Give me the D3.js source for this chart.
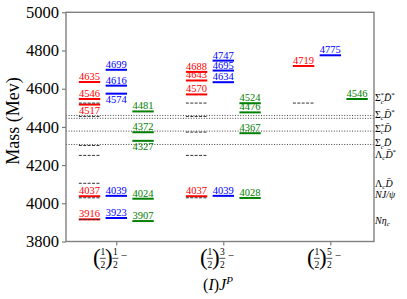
<!DOCTYPE html>
<html>
<head>
<meta charset="utf-8">
<script src="https://cdn.jsdelivr.net/npm/d3@7"></script>
<style>
  body { margin: 0; background: #fff; }
  text { font-family: "Liberation Serif", "Times New Roman", "DejaVu Serif", serif; }
</style>
</head>
<body>
<div id="chart"></div>
<script>
// (I)J^P columns
var jpNum = ["1", "3", "5"];

// masses per column, one array per series
var redMass = [[4635, 4546, 4517, 4037, 3916], [4688, 4643, 4570, 4037], [4719]];
var blueMass = [[4699, 4616, 4574, 4039, 3923], [4747, 4695, 4634, 4039], [4775]];
var greenMass = [[4481, 4372, 4327, 4024, 3907], [4524, 4476, 4367, 4028], [4546]];

// labels that sit under their line instead of over it
var labelBelow = [4517, 4574, 4327];

// thresholds drawn as short dashes in each column
var colThresholds = [
    [3920, 4034, 4110, 4256, 4308, 4460, 4530],
    [4034, 4256, 4378, 4460, 4530],
    [4530]
];
// thresholds drawn as dotted lines across the plot
var dottedThresholds = [4308, 4378, 4445, 4460];

// channel names on the right and the mass they are written at
var channelNames = ["Sc*D*", "ScD*", "Sc*D", "ScD", "LcD*", "LcD", "NJpsi", "Netac"];
var channelMass = [4552, 4466, 4393, 4316, 4256, 4106, 4048, 3912];

var yTicks = [3800, 4000, 4200, 4400, 4600, 4800, 5000];

var W = 407, H = 299;
var svg = d3.select("#chart").append("svg")
    .attr("width", W).attr("height", H);

var x = d3.scaleLinear().domain([0.53, 3.408]).range([66, 374]);
var y = d3.scaleLinear().domain([3800, 5000]).range([241.5, 12.3]);

var series = [
    { data: redMass, color: "#ff0000", off: -0.25 },
    { data: blueMass, color: "#0000ff", off: 0 },
    { data: greenMass, color: "#008000", off: 0.25 }
];
var hw = 0.1;

// dotted threshold lines
svg.selectAll(".dot-thr")
    .data(dottedThresholds)
    .enter().append("line")
    .attr("x1", x(0.53)).attr("x2", x(3.408))
    .attr("y1", function (d) { return y(d) }).attr("y2", function (d) { return y(d) })
    .attr("stroke", "#444").attr("stroke-width", 1)
    .attr("stroke-dasharray", "1,1.6");

// bars
var bars = [];
series.forEach(function (s) {
    s.data.forEach(function (col, i) {
        col.forEach(function (m) {
            bars.push({ c: i + 1, off: s.off, m: m, color: s.color });
        });
    });
});

svg.selectAll(".lvl")
    .data(bars)
    .enter().append("line")
    .attr("x1", function (d) { return x(d.c + d.off - hw) })
    .attr("x2", function (d) { return x(d.c + d.off + hw) })
    .attr("y1", function (d) { return y(d.m) })
    .attr("y2", function (d) { return y(d.m) })
    .attr("stroke", function (d) { return d.color })
    .attr("stroke-width", 2);

// short dashed thresholds at the red position
var dashes = [];
colThresholds.forEach(function (col, i) {
    col.forEach(function (m) { dashes.push({ c: i + 1, m: m }); });
});
svg.selectAll(".dash-thr")
    .data(dashes)
    .enter().append("line")
    .attr("x1", function (d) { return x(d.c - 0.25 - hw) })
    .attr("x2", function (d) { return x(d.c - 0.25 + hw) })
    .attr("y1", function (d) { return y(d.m) + 1 })
    .attr("y2", function (d) { return y(d.m) + 1 })
    .attr("stroke", "#333").attr("stroke-width", 1)
    .attr("stroke-dasharray", "3,1.4");

// value labels
svg.selectAll(".lbl")
    .data(bars)
    .enter().append("text")
    .attr("x", function (d) { return x(d.c + d.off) })
    .attr("y", function (d) {
        return labelBelow.indexOf(d.m) >= 0 ? y(d.m) + 9 : y(d.m) - 2;
    })
    .attr("text-anchor", "middle")
    .attr("font-size", "10.5px")
    .attr("fill", function (d) { return d.color })
    .text(function (d) { return d.m });

// axes
var yAxis = svg.append("g")
    .attr("transform", "translate(66,0)")
    .call(d3.axisLeft(y).tickValues(yTicks).tickFormat(d3.format("d")).tickSize(4).tickPadding(3));
yAxis.select(".domain").remove();
yAxis.selectAll("line").attr("stroke", "#666");
yAxis.selectAll("text").attr("font-size", "16.5px").attr("fill", "#000");

var xAxis = svg.append("g")
    .attr("transform", "translate(0,241.5)")
    .call(d3.axisBottom(x).tickValues([1, 2, 3]).tickSize(4).tickFormat(""));
xAxis.select(".domain").remove();
xAxis.selectAll("line").attr("stroke", "#666");

// frame
svg.append("rect")
    .attr("x", 66).attr("y", 12.3)
    .attr("width", 308).attr("height", 229.2)
    .attr("fill", "none").attr("stroke", "#808080").attr("stroke-width", 1.4);

// x tick labels: (1/2) J/2 -
function frac(g, cx, num) {
    g.append("text").attr("x", cx).attr("y", 254.5).attr("text-anchor", "middle")
        .attr("font-size", "9.5px").text(num);
    g.append("line").attr("x1", cx - 3).attr("x2", cx + 3)
        .attr("y1", 258.3).attr("y2", 258.3).attr("stroke", "#000").attr("stroke-width", 0.7);
    g.append("text").attr("x", cx).attr("y", 267.5).attr("text-anchor", "middle")
        .attr("font-size", "9.5px").text("2");
}
jpNum.forEach(function (n, i) {
    var cx = x(i + 1);
    var g = svg.append("g");
    g.append("text").attr("x", cx - 19.5).attr("y", 265).attr("text-anchor", "middle")
        .attr("font-size", "23px").text("(");
    frac(g, cx - 13.5, "1");
    g.append("text").attr("x", cx - 7.5).attr("y", 265).attr("text-anchor", "middle")
        .attr("font-size", "23px").text(")");
    frac(g, cx - 1, n);
    g.append("text").attr("x", cx + 7.5).attr("y", 259).attr("text-anchor", "middle")
        .attr("font-size", "11px").text("\u2212");
});

// x axis title
var xt = svg.append("text").attr("x", 218).attr("y", 290)
    .attr("text-anchor", "middle").attr("font-size", "16px");
xt.append("tspan").text("(");
xt.append("tspan").attr("font-style", "italic").text("I");
xt.append("tspan").text(")");
xt.append("tspan").attr("font-style", "italic").text("J");
xt.append("tspan").attr("font-style", "italic").attr("font-size", "11px").attr("dy", -6).text("P");

// y axis title
svg.append("text")
    .attr("transform", "translate(19,121) rotate(-90)")
    .attr("text-anchor", "middle").attr("font-size", "18px")
    .text("Mass (Mev)");

// channel names on the right
var parts = {
    "Sc*D*": [["\u03a3"], ["c", "sub"], ["*", "supb"], ["D\u0304", "it"], ["*", "sup"]],
    "ScD*": [["\u03a3"], ["c", "sub"], ["D\u0304", "it"], ["*", "sup"]],
    "Sc*D": [["\u03a3"], ["c", "sub"], ["*", "supb"], ["D\u0304", "it"]],
    "ScD": [["\u03a3"], ["c", "sub"], ["D\u0304", "it"]],
    "LcD*": [["\u039b"], ["c", "sub"], ["D\u0304", "it"], ["*", "sup"]],
    "LcD": [["\u039b"], ["c", "sub"], ["D\u0304", "it"]],
    "NJpsi": [["NJ/\u03c8", "it"]],
    "Netac": [["N\u03b7", "it"], ["c", "sub"]]
};
channelNames.forEach(function (nm, i) {
    var t = svg.append("text").attr("x", 375).attr("y", y(channelMass[i]) + 3.5)
        .attr("font-size", "10px");
    var shift = 0;
    parts[nm].forEach(function (p) {
        var sp = t.append("tspan").text(p[0]);
        var want = 0;
        if (p[1] === "sub") { want = 2.5; sp.attr("font-size", "7px").attr("font-style", "italic"); }
        else if (p[1] === "sup") { want = -4; sp.attr("font-size", "7px"); }
        else if (p[1] === "supb") { want = -4; sp.attr("font-size", "7px").attr("dx", -3.5); }
        else if (p[1] === "it") { sp.attr("font-style", "italic"); }
        if (want !== shift) { sp.attr("dy", want - shift); shift = want; }
    });
});
</script>
</body>
</html>
